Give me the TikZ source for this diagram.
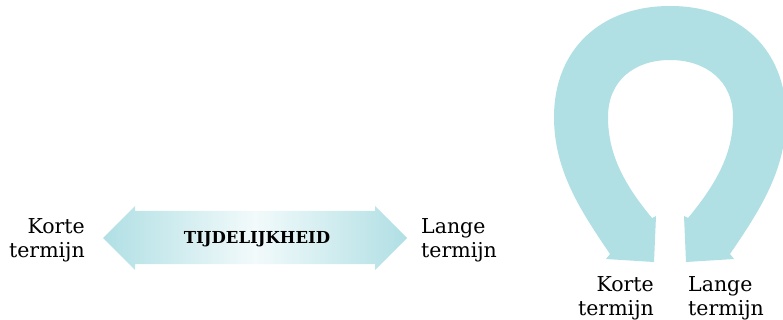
\documentclass[tikz,border=0pt]{standalone}
\usepackage{fontspec}
\setmainfont{DejaVu Serif}
\definecolor{teal1}{RGB}{176,223,228}
\definecolor{teal2}{RGB}{242,250,251}
\begin{document}
\begin{tikzpicture}[x=1pt,y=-1pt,
  lbl/.style={inner sep=0pt,font=\fontsize{20.5}{24}\selectfont},
  bandfill/.style={fill=teal1,draw=none}]
\clip (0,0) rectangle (783,320);
\useasboundingbox (0,0) rectangle (783,320);
% horizontal double arrow
\shade[left color=teal1,right color=teal1,middle color=teal2]
  (103,238) -- (135,206) -- (135,211) -- (375,211) -- (375,206) -- (407,238)
  -- (375,270) -- (375,264) -- (135,264) -- (135,270) -- cycle;
\node[inner sep=0pt,font=\fontsize{16.5}{18}\selectfont\bfseries] (tij) at (257,239) {TIJDELIJKHEID};
\node[lbl,align=right,anchor=north east] (k1) at (85,218) {Korte\\termijn};
\node[lbl,align=left,anchor=north west] (l1) at (421,218) {Lange\\termijn};
% loop
\path[bandfill]
  (670,6) .. controls (600,6) and (554,50) .. (554,117)
  .. controls (554,170) and (580,210) .. (610,254)
  -- (606,259) -- (654,262) -- (656,216) -- (652,218)
  .. controls (622,182) and (608,152) .. (608,117)
  .. controls (608,80) and (635,60) .. (670,60)
  .. controls (705,60) and (733,80) .. (733,117)
  .. controls (733,152) and (718,182) .. (688,218)
  -- (684,216) -- (686,262) -- (734,259) -- (730,254)
  .. controls (760,210) and (786,170) .. (786,117)
  .. controls (786,50) and (740,6) .. (670,6) -- cycle;
\node[lbl,align=right,anchor=north east] (k2) at (654,276) {Korte\\termijn};
\node[lbl,align=left,anchor=north west] (l2) at (688,276) {Lange\\termijn};
\end{tikzpicture}
\end{document}
